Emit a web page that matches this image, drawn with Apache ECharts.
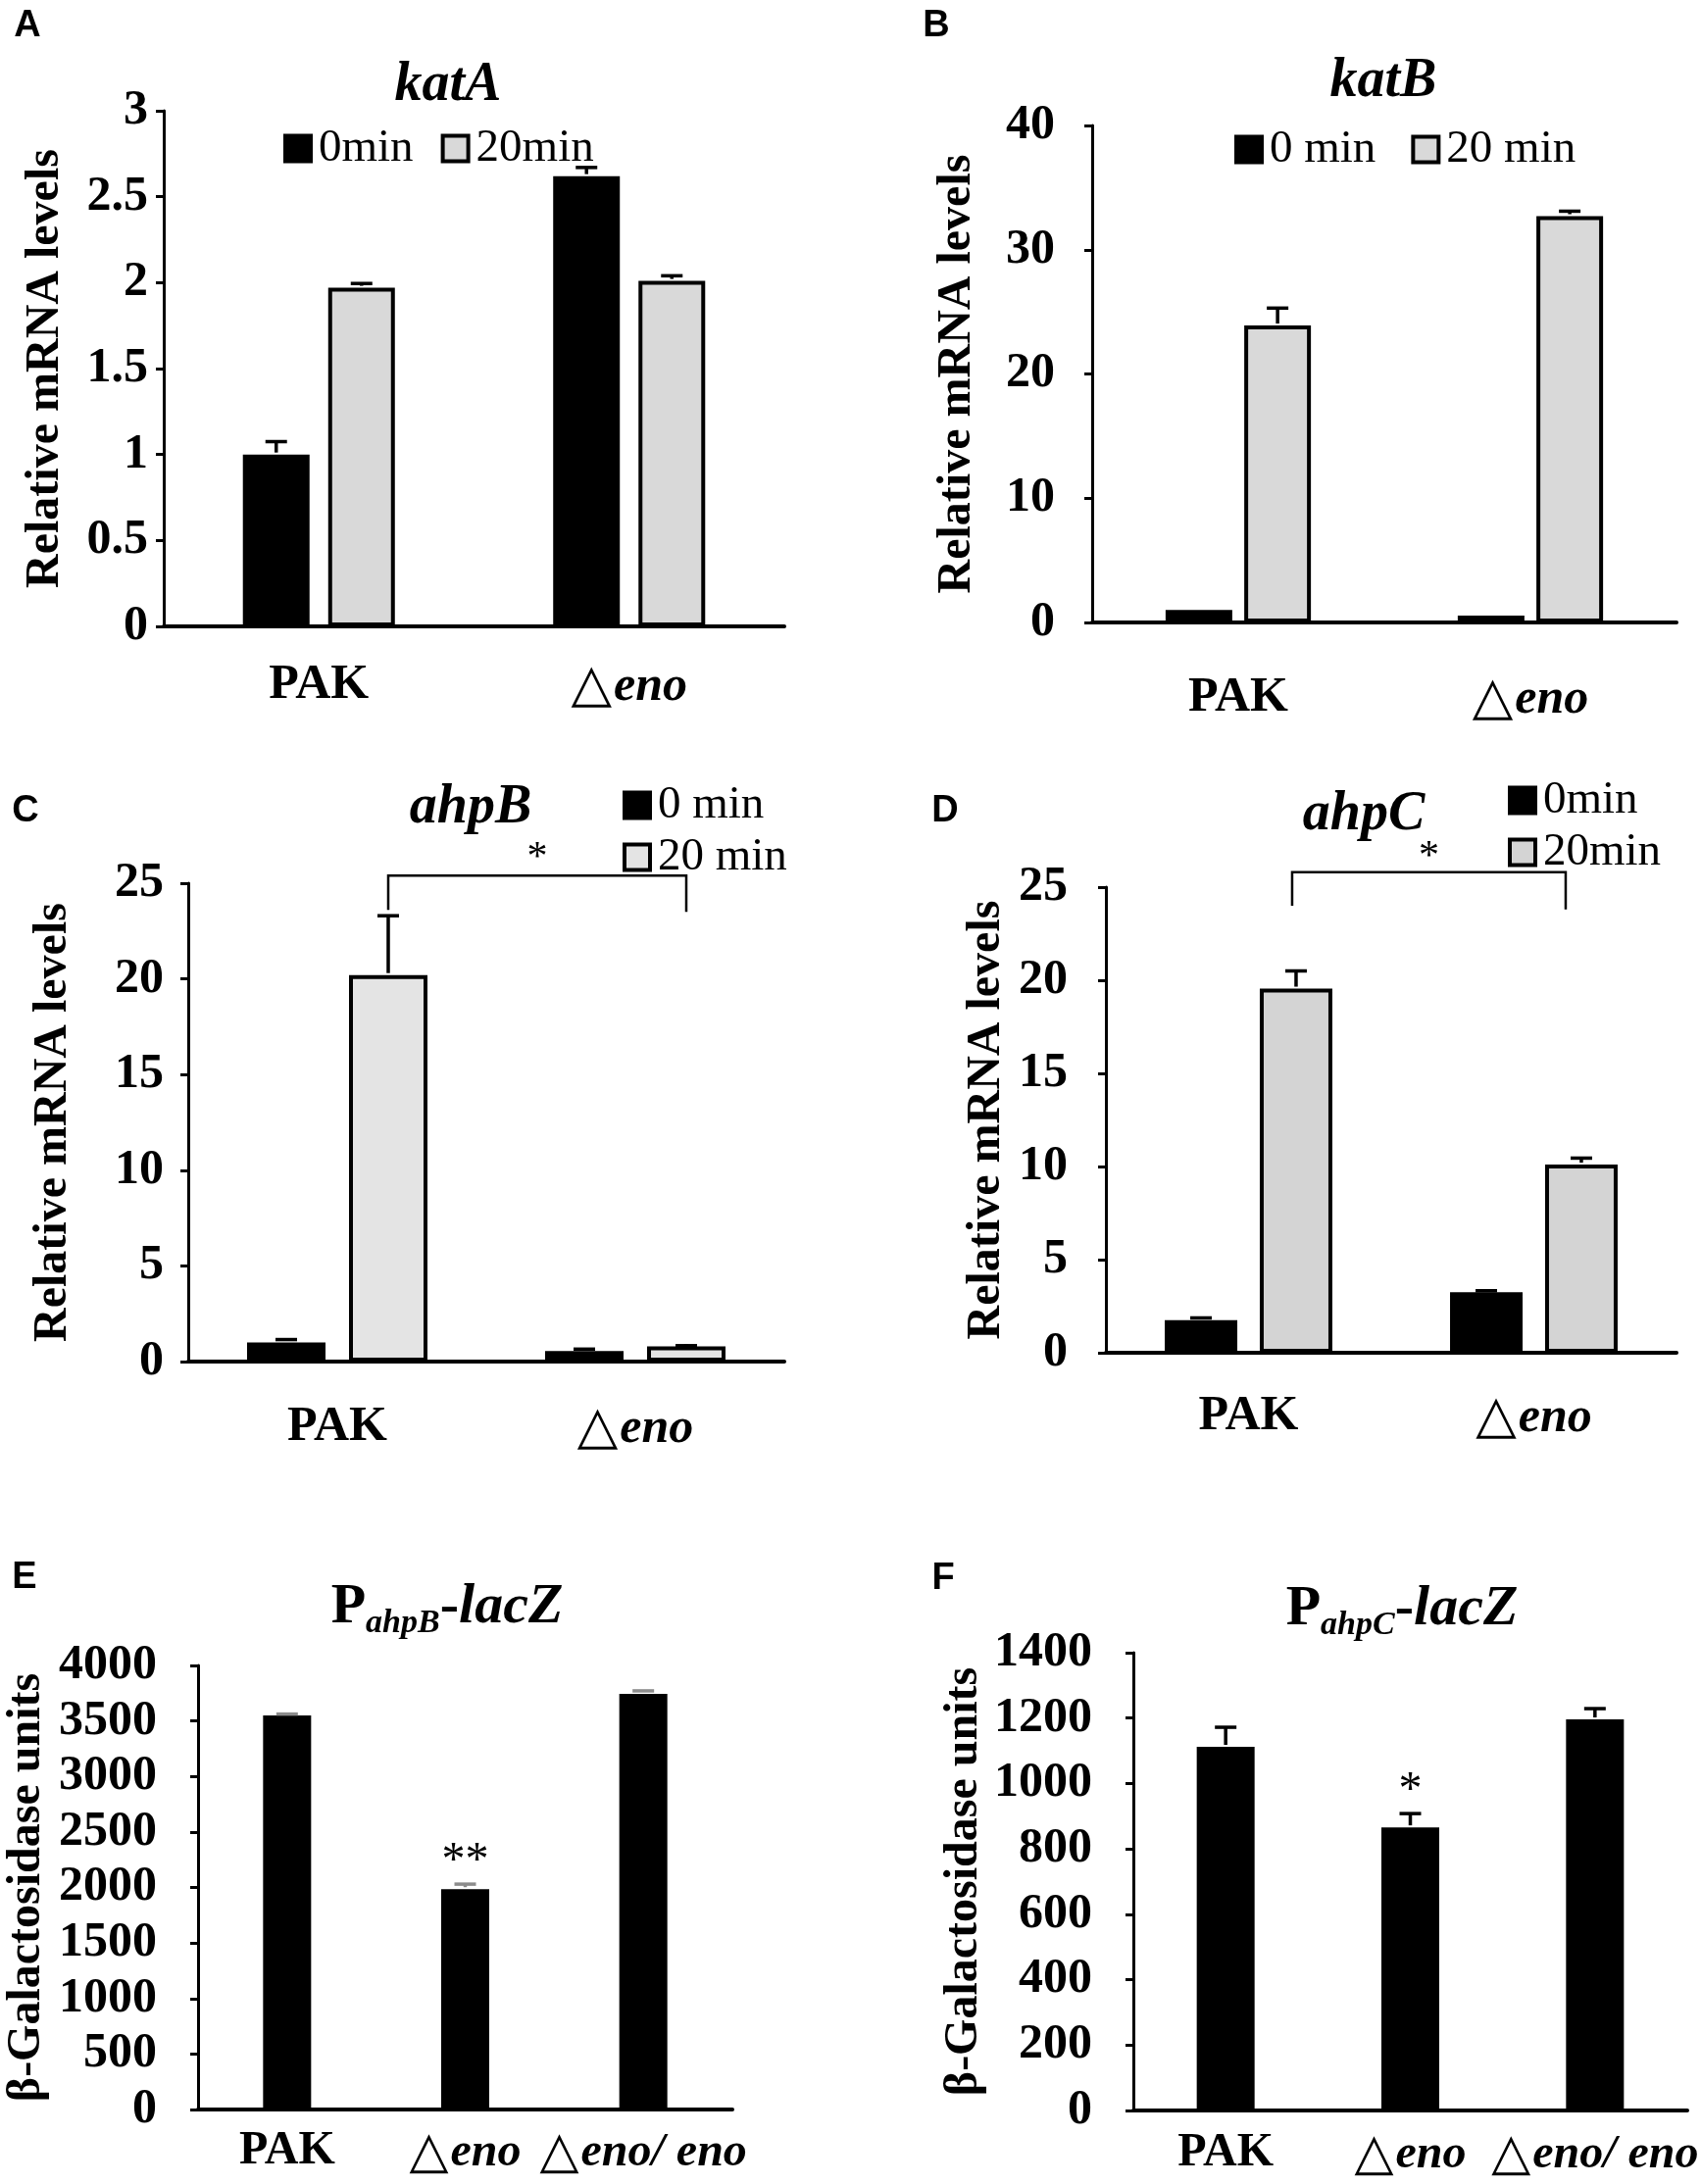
<!DOCTYPE html>
<html><head><meta charset="utf-8">
<script src="https://cdn.jsdelivr.net/npm/echarts@6/dist/echarts.min.js"></script>
<style>html,body{margin:0;padding:0;background:#fff}#c{width:1735px;height:2228px}</style>
</head><body><div id="c"></div>
<script>
// ---------- data ----------
const catsAB = ['PAK', '△eno'];
const catsEF = ['PAK', '△eno', '△eno/ eno'];

const katA0 = [1.0, 2.62], katA0Err = [0.075, 0.05];
const katA20 = [1.97, 2.01], katA20Err = [0.025, 0.03];
const katB0 = [1.0, 0.55], katB0Err = [0, 0];
const katB20 = [23.9, 32.7], katB20Err = [1.4, 0.4];
const ahpB0 = [1.0, 0.55], ahpB0Err = [0.15, 0.1];
const ahpB20 = [20.2, 0.8], ahpB20Err = [3.1, 0.03];
const ahpC0 = [1.75, 3.25], ahpC0Err = [0.12, 0.08];
const ahpC20 = [19.55, 10.1], ahpC20Err = [0.95, 0.35];
const lacZB = [3550, 1985, 3745], lacZBErr = [12, 45, 26];
const lacZC = [1112, 866, 1196], lacZCErr = [60, 42, 33];

const yTicksA = [0, 0.5, 1, 1.5, 2, 2.5, 3];
const yTicksB = [0, 10, 20, 30, 40];
const yTicksC = [0, 5, 10, 15, 20, 25];
const yTicksD = [0, 5, 10, 15, 20, 25];
const yTicksE = [0, 500, 1000, 1500, 2000, 2500, 3000, 3500, 4000];
const yTicksF = [0, 200, 400, 600, 800, 1000, 1200, 1400];

const legendA = ['0min', '20min'];
const legendB = ['0 min', '20 min'];
const legendC = ['0 min', '20 min'];
const legendD = ['0min', '20min'];

// bracket: [fromCat, toCat, lineY, leftLegEnd, rightLegEnd, starY]
const bracketC = [[0, 1, 25.4, 23.6, 23.5, 26.3]];
const bracketD = [[0, 1, 25.8, 24.0, 23.8, 26.6]];
const starE = [[1, 2230]];
const starF = [[1, 975]];

// ---------- style ----------
const SERIF = '"Liberation Serif", "Times New Roman", serif';
const SANS = '"Liberation Sans", Arial, sans-serif';

const panels = [
  { id: 'A', grid: {left: 167, top: 113, width: 633, height: 526}, ticks: yTicksA, cats: catsAB,
    series: [{v: katA0, e: katA0Err, c: '#000'}, {v: katA20, e: katA20Err, c: '#d9d9d9'}],
    legend: legendA, legendPos: {left: 284, top: 123, orient: 'horizontal', itemGap: 28},
    bw: 68, gap: 0.28, yName: 'Relative mRNA levels', nameGap: 96, labelMargin: 16, catMargin: 35, errColor: '#000', catFont: 50},
  { id: 'B', grid: {left: 1114, top: 128, width: 596, height: 507}, ticks: yTicksB, cats: catsAB,
    series: [{v: katB0, e: katB0Err, c: '#000'}, {v: katB20, e: katB20Err, c: '#d9d9d9'}],
    legend: legendB, legendPos: {left: 1254, top: 124, orient: 'horizontal', itemGap: 36},
    bw: 68, gap: 0.18, yName: 'Relative mRNA levels', nameGap: 113, labelMargin: 38, catMargin: 52, errColor: '#000', catFont: 50},
  { id: 'C', grid: {left: 192, top: 901, width: 608, height: 488}, ticks: yTicksC, cats: catsAB,
    series: [{v: ahpB0, e: ahpB0Err, c: '#000'}, {v: ahpB20, e: ahpB20Err, c: '#e4e4e4'}],
    legend: legendC, legendPos: {left: 630, top: 793, orient: 'vertical', itemGap: 6},
    bw: 80, gap: 0.3, yName: 'Relative mRNA levels', nameGap: 113, labelMargin: 25, catMargin: 42, errColor: '#000', catFont: 50,
    bracket: bracketC, bracketText: '*', bracketShift: [0, 0]},
  { id: 'D', grid: {left: 1128, top: 905, width: 582, height: 475}, ticks: yTicksD, cats: catsAB,
    series: [{v: ahpC0, e: ahpC0Err, c: '#000'}, {v: ahpC20, e: ahpC20Err, c: '#d4d4d4'}],
    legend: legendD, legendPos: {left: 1533, top: 788, orient: 'vertical', itemGap: 6},
    bw: 74, gap: 0.31, yName: 'Relative mRNA levels', nameGap: 97, labelMargin: 39, catMargin: 40, errColor: '#000', catFont: 50,
    bracket: bracketD, bracketText: '*', bracketShift: [-4, -16]},
  { id: 'E', grid: {left: 202, top: 1699, width: 545, height: 453}, ticks: yTicksE, cats: catsEF,
    series: [{v: lacZB, e: lacZBErr, c: '#000'}],
    bw: 49, gap: 0, yName: 'β-Galactosidase units', nameGap: 150, labelMargin: 42, catMargin: 19, errColor: '#8c8c8c', catFont: 48,
    star: starE, starText: '**'},
  { id: 'F', grid: {left: 1156, top: 1686, width: 568, height: 467}, ticks: yTicksF, cats: catsEF,
    series: [{v: lacZC, e: lacZCErr, c: '#000'}],
    bw: 59, gap: 0, yName: 'β-Galactosidase units', nameGap: 148, labelMargin: 42, catMargin: 20, errColor: '#000', catFont: 48,
    star: starF, starText: '*'}
];

function offsetFor(p, i) {
  const n = p.series.length;
  const total = n * p.bw + (n - 1) * p.bw * p.gap;
  return -total / 2 + i * (p.bw + p.bw * p.gap) + p.bw / 2;
}

const grids = [], xAxes = [], yAxes = [], series = [], legends = [];
panels.forEach((p, gi) => {
  grids.push(Object.assign({}, p.grid, {containLabel: false}));
  xAxes.push({
    type: 'category', gridIndex: gi, data: p.cats,
    axisLine: {lineStyle: {color: '#000', width: 4}},
    axisTick: {show: false},
    axisLabel: {
      margin: p.catMargin, color: '#000',
      formatter: v => v.charAt(0) === '△' ? '{t|△}{i|' + v.slice(1) + '}' : '{b|' + v + '}',
      rich: {
        b: {fontFamily: SERIF, fontWeight: 'bold', fontSize: p.catFont, color: '#000'},
        i: {fontFamily: SERIF, fontWeight: 'bold', fontStyle: 'italic', fontSize: p.catFont, color: '#000'},
        t: {fontFamily: '"DejaVu Sans"', fontSize: p.catFont + 4, color: '#000', padding: [0, 2, 0, 0]}
      }
    }
  });
  yAxes.push({
    type: 'value', gridIndex: gi,
    min: p.ticks[0], max: p.ticks[p.ticks.length - 1], interval: p.ticks[1] - p.ticks[0],
    axisLine: {show: true, lineStyle: {color: '#000', width: 3}},
    axisTick: {show: true, length: 8, lineStyle: {color: '#000', width: 3}},
    splitLine: {show: false},
    axisLabel: {margin: p.labelMargin, color: '#000', fontFamily: SERIF, fontWeight: 'bold', fontSize: 50,
      formatter: v => String(v)},
    name: p.yName, nameLocation: 'middle', nameGap: p.nameGap,
    nameTextStyle: {fontFamily: SERIF, fontWeight: 'bold', fontSize: 48, color: '#000'}
  });
  p.series.forEach((s, si) => {
    const nm = p.legend ? p.id + '|' + p.legend[si] : p.id + si;
    series.push({
      type: 'bar', name: nm, xAxisIndex: gi, yAxisIndex: gi, data: s.v,
      barWidth: p.bw, barGap: (p.gap * 100) + '%',
      itemStyle: {color: s.c, borderColor: '#000', borderWidth: 4},
      emphasis: {disabled: true}, z: 2
    });
    const off = offsetFor(p, si);
    series.push({
      type: 'custom', xAxisIndex: gi, yAxisIndex: gi, z: 5, silent: true,
      data: s.v.map((v, k) => [k, v, s.e[k]]),
      renderItem: (params, api) => {
        const e = api.value(2);
        if (!e) return null;
        const b = api.coord([api.value(0), api.value(1)]);
        const t = api.coord([api.value(0), api.value(1) + e]);
        const x = b[0] + off;
        const st = {stroke: p.errColor, lineWidth: 3.5};
        return {type: 'group', children: [
          {type: 'line', shape: {x1: x, y1: b[1] - 2, x2: x, y2: t[1]}, style: st},
          {type: 'line', shape: {x1: x - 11, y1: t[1], x2: x + 11, y2: t[1]}, style: st}
        ]};
      }
    });
  });
  if (p.bracket) {
    const off = offsetFor(p, 1);
    series.push({
      type: 'custom', xAxisIndex: gi, yAxisIndex: gi, z: 6, silent: true,
      data: p.bracket,
      renderItem: (params, api) => {
        const a = api.coord([api.value(0), api.value(2)]);
        const b = api.coord([api.value(1), api.value(2)]);
        const la = api.coord([api.value(0), api.value(3)]);
        const rb = api.coord([api.value(1), api.value(4)]);
        const sy = api.coord([api.value(0), api.value(5)])[1];
        const x1 = a[0] + off + p.bracketShift[0], x2 = b[0] + off + p.bracketShift[1];
        return {type: 'group', children: [
          {type: 'polyline', shape: {points: [[x1, la[1]], [x1, a[1]], [x2, b[1]], [x2, rb[1]]]},
           style: {stroke: '#000', lineWidth: 2.5, fill: null}},
          {type: 'text', x: (x1 + x2) / 2, y: sy,
           style: {text: p.bracketText, font: '42px ' + SERIF, fill: '#000', align: 'center', verticalAlign: 'middle'}}
        ]};
      }
    });
  }
  if (p.star) {
    series.push({
      type: 'custom', xAxisIndex: gi, yAxisIndex: gi, z: 6, silent: true,
      data: p.star,
      renderItem: (params, api) => {
        const c = api.coord([api.value(0), api.value(1)]);
        return {type: 'text', x: c[0], y: c[1],
          style: {text: p.starText, font: '48px ' + SERIF, fill: '#000', align: 'center', verticalAlign: 'middle'}};
      }
    });
  }
  if (p.legend) {
    legends.push(Object.assign({
      data: p.legend.map(l => p.id + '|' + l),
      formatter: n => n.split('|')[1],
      icon: 'rect', itemWidth: 26, itemHeight: 26, selectedMode: false,
      itemStyle: {borderColor: '#000', borderWidth: 4},
      textStyle: {fontFamily: SERIF, fontSize: 47, color: '#000', padding: [0, 0, 0, 3]}
    }, p.legendPos));
  }
});

const titleFont = 'bold italic 56px ' + SERIF;
const letterFont = 'bold 38px ' + SANS;
function subTitle(sub) {
  return {
    text: '{p|P}{s|' + sub + '}{p|-}{l|lacZ}', align: 'center', verticalAlign: 'middle',
    rich: {
      p: {fontFamily: SERIF, fontWeight: 'bold', fontSize: 58, fill: '#000'},
      l: {fontFamily: SERIF, fontWeight: 'bold', fontStyle: 'italic', fontSize: 58, fill: '#000'},
      s: {fontFamily: SERIF, fontWeight: 'bold', fontStyle: 'italic', fontSize: 34, fill: '#000', padding: [32, 0, 0, 0]}
    }
  };
}
const graphic = [
  {type: 'text', x: 28, y: 27, style: {text: 'A', font: letterFont, fill: '#000', align: 'center', verticalAlign: 'middle'}},
  {type: 'text', x: 955, y: 27, style: {text: 'B', font: letterFont, fill: '#000', align: 'center', verticalAlign: 'middle'}},
  {type: 'text', x: 26, y: 828, style: {text: 'C', font: letterFont, fill: '#000', align: 'center', verticalAlign: 'middle'}},
  {type: 'text', x: 964, y: 828, style: {text: 'D', font: letterFont, fill: '#000', align: 'center', verticalAlign: 'middle'}},
  {type: 'text', x: 25, y: 1610, style: {text: 'E', font: letterFont, fill: '#000', align: 'center', verticalAlign: 'middle'}},
  {type: 'text', x: 962, y: 1611, style: {text: 'F', font: letterFont, fill: '#000', align: 'center', verticalAlign: 'middle'}},
  {type: 'text', x: 457, y: 88, style: {text: 'katA', font: titleFont, fill: '#000', align: 'center', verticalAlign: 'middle'}},
  {type: 'text', x: 1411, y: 84, style: {text: 'katB', font: titleFont, fill: '#000', align: 'center', verticalAlign: 'middle'}},
  {type: 'text', x: 480, y: 825, style: {text: 'ahpB', font: titleFont, fill: '#000', align: 'center', verticalAlign: 'middle'}},
  {type: 'text', x: 1391, y: 832, style: {text: 'ahpC', font: titleFont, fill: '#000', align: 'center', verticalAlign: 'middle'}},
  {type: 'text', x: 456, y: 1640, style: subTitle('ahpB')},
  {type: 'text', x: 1430, y: 1642, style: subTitle('ahpC')}
];

const chart = echarts.init(document.getElementById('c'), null, {renderer: 'canvas'});
chart.setOption({
  backgroundColor: '#fff', animation: false,
  grid: grids, xAxis: xAxes, yAxis: yAxes, series: series, legend: legends, graphic: graphic
});
</script></body></html>
